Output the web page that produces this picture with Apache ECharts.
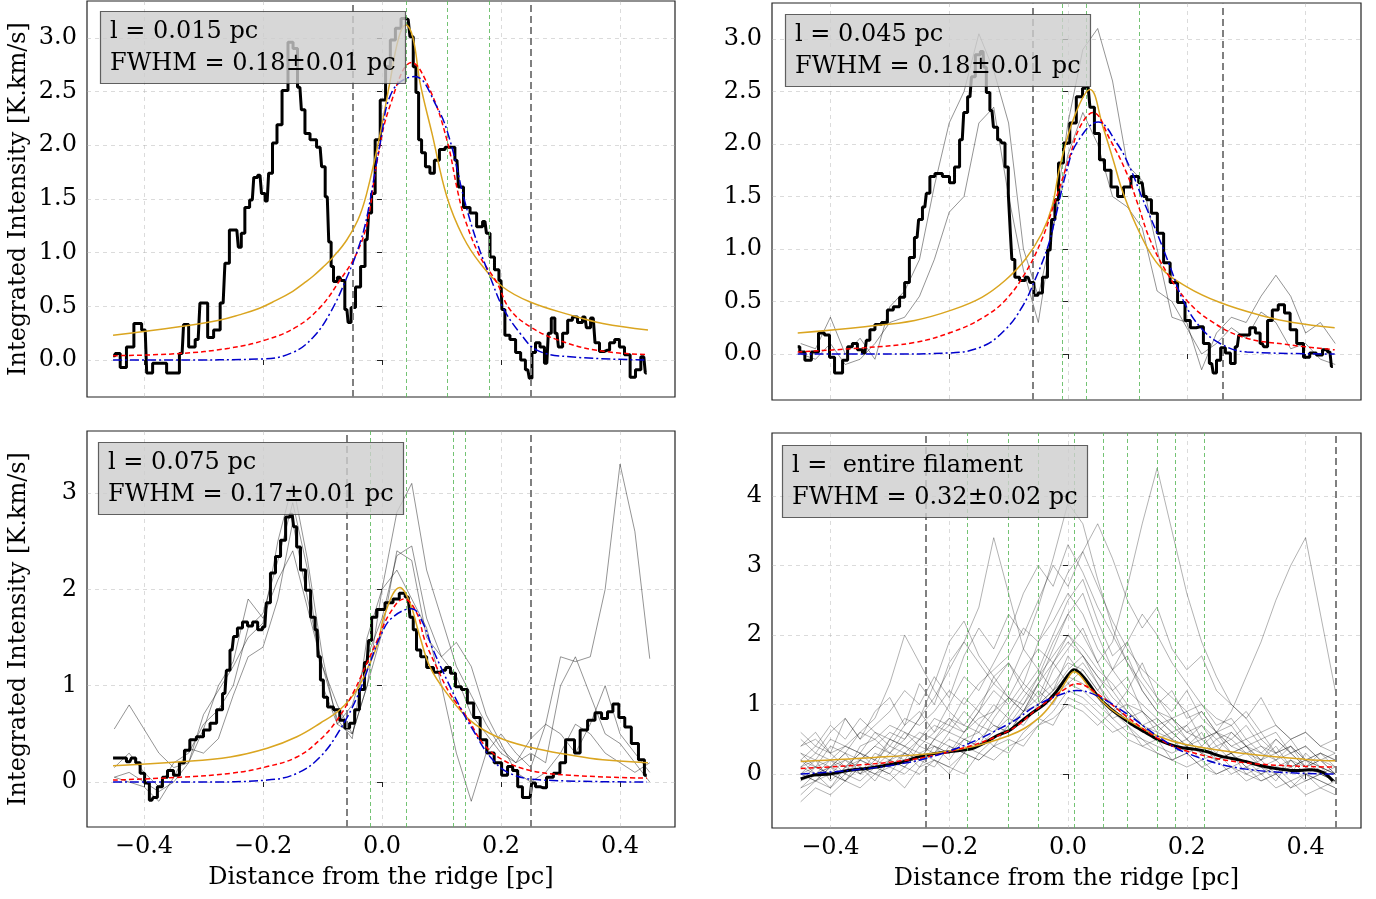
<!DOCTYPE html>
<html><head><meta charset="utf-8">
<script src="https://cdn.jsdelivr.net/npm/echarts@6/dist/echarts.min.js"></script>
<style>html,body{margin:0;padding:0;background:#fff}#c{width:1376px;height:899px}</style>
</head><body><div id="c"></div>
<script>
// ---------------- DATA ----------------
const xTicks = [-0.4, -0.2, 0, 0.2, 0.4];
const yTicksTop = [0, 0.5, 1, 1.5, 2, 2.5, 3];
const yTicks3 = [0, 1, 2, 3];
const yTicks4 = [0, 1, 2, 3, 4];

const labels = [
  'l = 0.015 pc\nFWHM = 0.18\u00b10.01 pc',
  'l = 0.045 pc\nFWHM = 0.18\u00b10.01 pc',
  'l = 0.075 pc\nFWHM = 0.17\u00b10.01 pc',
  'l =  entire filament\nFWHM = 0.32\u00b10.02 pc'
];

// vertical markers
const p1Ridge = [-0.054, 0.252], p1Green = [0.037, 0.113, 0.180];
const p2Ridge = [-0.057, 0.259], p2Green = [-0.012, 0.034, 0.116];
const p3Ridge = [-0.0605, 0.254], p3Green = [-0.016, 0.037, 0.119, 0.143];
const p4Ridge = [-0.236, 0.446], p4Green = [-0.172, -0.099, -0.054, 0.007, 0.062, 0.104, 0.146, 0.184, 0.229];

// panel 1 profile
const p1Black = [[-0.452,0.04],[-0.445,0.06],[-0.435,-0.07],[-0.424,0.12],[-0.410,0.34],[-0.398,0.28],[-0.393,-0.12],[-0.378,-0.03],[-0.368,-0.03],[-0.356,-0.12],[-0.345,-0.12],[-0.336,0.06],[-0.331,0.33],[-0.319,0.12],[-0.309,0.19],[-0.303,0.53],[-0.297,0.53],[-0.289,0.21],[-0.277,0.28],[-0.267,0.53],[-0.261,0.90],[-0.252,1.21],[-0.244,1.21],[-0.239,1.05],[-0.234,1.18],[-0.227,1.42],[-0.218,1.49],[-0.213,1.70],[-0.205,1.72],[-0.200,1.55],[-0.193,1.48],[-0.188,1.74],[-0.180,2.02],[-0.173,2.19],[-0.163,2.51],[-0.153,2.96],[-0.146,2.90],[-0.138,2.54],[-0.133,2.33],[-0.126,2.11],[-0.116,2.05],[-0.104,1.98],[-0.099,1.80],[-0.092,1.52],[-0.087,1.10],[-0.084,0.87],[-0.079,0.73],[-0.071,0.77],[-0.066,0.74],[-0.059,0.47],[-0.055,0.35],[-0.049,0.49],[-0.040,0.68],[-0.032,0.87],[-0.025,1.12],[-0.020,1.37],[-0.015,1.55],[-0.008,2.05],[0.002,2.42],[0.010,2.73],[0.018,2.98],[0.027,3.09],[0.037,3.18],[0.044,3.17],[0.050,3.01],[0.055,2.73],[0.059,2.49],[0.064,2.05],[0.069,1.93],[0.077,1.80],[0.084,1.74],[0.092,1.86],[0.101,1.96],[0.111,1.98],[0.119,1.98],[0.126,1.86],[0.131,1.61],[0.143,1.42],[0.153,1.37],[0.165,1.24],[0.173,1.29],[0.178,1.18],[0.185,0.96],[0.193,0.84],[0.200,0.74],[0.203,0.47],[0.210,0.23],[0.220,0.19],[0.229,0.07],[0.237,0.00],[0.245,-0.09],[0.250,-0.17],[0.254,0.07],[0.262,0.16],[0.269,0.12],[0.277,-0.03],[0.282,0.25],[0.287,0.39],[0.294,0.25],[0.299,0.12],[0.308,0.25],[0.316,0.37],[0.324,0.40],[0.333,0.35],[0.341,0.40],[0.346,0.30],[0.355,0.39],[0.361,0.16],[0.370,0.08],[0.378,0.09],[0.387,0.16],[0.395,0.19],[0.403,0.12],[0.412,0.05],[0.422,-0.16],[0.430,-0.09],[0.440,0.03],[0.445,-0.12]];
const p1Plummer = [[-0.452,0.23],[-0.341,0.31],[-0.274,0.37],[-0.240,0.42],[-0.207,0.48],[-0.180,0.55],[-0.150,0.64],[-0.130,0.72],[-0.116,0.78],[-0.100,0.86],[-0.082,0.96],[-0.059,1.12],[-0.037,1.35],[-0.020,1.68],[-0.003,2.11],[0.013,2.58],[0.028,3.00],[0.040,3.12],[0.052,3.00],[0.064,2.58],[0.084,2.11],[0.109,1.52],[0.136,1.15],[0.165,0.90],[0.203,0.68],[0.249,0.54],[0.316,0.42],[0.371,0.34],[0.447,0.28]];
const p1Gauss = [[-0.452,0.04],[-0.341,0.06],[-0.257,0.11],[-0.194,0.19],[-0.143,0.31],[-0.104,0.49],[-0.071,0.74],[-0.042,1.00],[-0.024,1.30],[-0.008,1.86],[0.013,2.36],[0.050,2.77],[0.081,2.51],[0.109,2.05],[0.128,1.55],[0.140,1.30],[0.165,0.96],[0.193,0.72],[0.215,0.47],[0.249,0.31],[0.294,0.19],[0.361,0.09],[0.445,0.05]];
const p1Gauss2 = [[-0.452,0.0],[-0.35,0.0],[-0.2,0.01],[-0.150,0.07],[-0.116,0.21],[-0.087,0.44],[-0.059,0.77],[-0.037,1.09],[-0.024,1.37],[-0.003,2.02],[0.018,2.51],[0.055,2.64],[0.092,2.36],[0.114,2.05],[0.138,1.50],[0.160,1.09],[0.182,0.77],[0.203,0.49],[0.232,0.25],[0.261,0.09],[0.316,0.03],[0.445,0.0]];

// panel 2 profiles
const p2Black = [[-0.455,0.07],[-0.448,0.02],[-0.438,-0.06],[-0.426,0.02],[-0.414,0.20],[-0.406,0.18],[-0.397,-0.03],[-0.389,-0.18],[-0.384,-0.18],[-0.375,-0.06],[-0.367,0.07],[-0.359,0.10],[-0.350,0.04],[-0.342,0.01],[-0.337,0.13],[-0.330,0.23],[-0.320,0.28],[-0.308,0.30],[-0.300,0.42],[-0.288,0.45],[-0.279,0.54],[-0.271,0.68],[-0.263,0.92],[-0.254,1.11],[-0.249,1.28],[-0.241,1.40],[-0.236,1.53],[-0.229,1.69],[-0.219,1.72],[-0.204,1.69],[-0.195,1.63],[-0.187,1.78],[-0.178,2.04],[-0.173,2.30],[-0.165,2.45],[-0.160,2.64],[-0.152,2.85],[-0.143,2.88],[-0.140,2.73],[-0.135,2.49],[-0.128,2.32],[-0.123,2.16],[-0.114,2.04],[-0.109,2.01],[-0.103,1.78],[-0.098,1.53],[-0.096,1.15],[-0.093,0.90],[-0.086,0.73],[-0.077,0.70],[-0.067,0.73],[-0.061,0.68],[-0.054,0.56],[-0.047,0.58],[-0.039,0.73],[-0.030,0.99],[-0.025,1.28],[-0.019,1.47],[-0.013,1.82],[-0.002,2.01],[0.008,2.20],[0.020,2.45],[0.029,2.53],[0.034,2.54],[0.040,2.35],[0.049,2.10],[0.057,1.85],[0.066,1.75],[0.079,1.59],[0.088,1.50],[0.099,1.59],[0.113,1.69],[0.125,1.63],[0.130,1.50],[0.135,1.47],[0.146,1.34],[0.155,1.15],[0.167,0.87],[0.177,0.68],[0.192,0.49],[0.202,0.32],[0.210,0.25],[0.222,0.26],[0.234,0.10],[0.242,-0.09],[0.247,-0.18],[0.253,-0.06],[0.261,0.06],[0.269,0.01],[0.278,-0.09],[0.285,0.07],[0.290,0.18],[0.301,0.18],[0.311,0.25],[0.320,0.20],[0.327,0.10],[0.332,0.07],[0.340,0.32],[0.348,0.42],[0.360,0.47],[0.369,0.39],[0.379,0.23],[0.391,0.10],[0.402,-0.03],[0.412,0.01],[0.424,-0.01],[0.433,0.04],[0.441,0.02],[0.446,-0.12]];
const p2Plummer = [[-0.455,0.20],[-0.342,0.26],[-0.258,0.32],[-0.195,0.42],[-0.145,0.54],[-0.106,0.70],[-0.072,0.90],[-0.044,1.15],[-0.027,1.40],[-0.013,1.80],[0.012,2.28],[0.037,2.52],[0.059,2.16],[0.076,1.85],[0.093,1.53],[0.121,1.15],[0.155,0.83],[0.200,0.64],[0.256,0.49],[0.323,0.37],[0.379,0.30],[0.449,0.25]];
const p2Gauss = [[-0.455,0.02],[-0.342,0.06],[-0.258,0.11],[-0.195,0.21],[-0.145,0.34],[-0.106,0.51],[-0.072,0.77],[-0.044,1.09],[-0.025,1.40],[0.003,1.88],[0.020,2.16],[0.042,2.30],[0.071,2.04],[0.099,1.72],[0.118,1.42],[0.138,1.09],[0.167,0.77],[0.200,0.51],[0.239,0.32],[0.295,0.16],[0.369,0.09],[0.449,0.04]];
const p2Gauss2 = [[-0.455,0.0],[-0.3,0.0],[-0.2,0.01],[-0.145,0.07],[-0.106,0.23],[-0.077,0.45],[-0.056,0.70],[-0.034,1.02],[-0.022,1.28],[-0.002,1.75],[0.015,2.01],[0.051,2.21],[0.082,2.01],[0.104,1.78],[0.124,1.50],[0.150,1.15],[0.172,0.83],[0.194,0.51],[0.222,0.26],[0.256,0.10],[0.301,0.02],[0.449,0.0]];

// common sampling positions of the thin individual profiles
const gx = [-0.45,-0.425,-0.4,-0.375,-0.35,-0.325,-0.3,-0.275,-0.25,-0.225,-0.2,-0.175,-0.15,-0.125,-0.1,-0.075,-0.05,-0.025,0,0.025,0.05,0.075,0.1,0.125,0.15,0.175,0.2,0.225,0.25,0.275,0.3,0.325,0.35,0.375,0.4,0.425,0.45];
const p2GrayA = [0.1,0.05,0.35,0.0,0.15,-0.05,0.45,0.6,0.9,1.6,2.2,2.5,3.05,2.7,2.2,1.0,0.55,1.2,2.2,2.9,3.1,2.6,1.8,1.65,1.0,0.35,0.3,-0.15,0.2,0.35,0.3,0.55,0.75,0.55,0.2,0.3,0.1];
const p2GrayB = [0.0,-0.05,0.1,-0.1,-0.05,0.1,0.3,0.35,0.55,0.9,1.35,1.5,2.2,2.35,1.5,0.8,0.3,1.2,1.9,2.3,2.0,1.5,1.4,1.2,0.6,0.5,0.25,0.0,0.1,0.25,0.15,0.4,0.3,0.05,0.1,-0.05,-0.1];

// panel 3 profiles
const p3Black = [[-0.452,0.25],[-0.435,0.25],[-0.424,0.21],[-0.418,0.25],[-0.410,0.20],[-0.403,0.09],[-0.395,-0.01],[-0.387,-0.19],[-0.382,-0.16],[-0.373,-0.05],[-0.365,0.05],[-0.356,0.12],[-0.345,0.07],[-0.336,0.20],[-0.328,0.33],[-0.318,0.44],[-0.306,0.47],[-0.294,0.54],[-0.284,0.61],[-0.272,0.75],[-0.264,0.92],[-0.259,1.16],[-0.252,1.37],[-0.247,1.51],[-0.239,1.60],[-0.230,1.66],[-0.222,1.62],[-0.213,1.66],[-0.205,1.58],[-0.197,1.61],[-0.192,1.86],[-0.183,2.17],[-0.175,2.34],[-0.166,2.51],[-0.158,2.75],[-0.151,2.78],[-0.146,2.65],[-0.141,2.44],[-0.133,2.20],[-0.124,1.99],[-0.116,1.71],[-0.109,1.58],[-0.106,1.30],[-0.101,1.06],[-0.096,0.88],[-0.087,0.78],[-0.076,0.75],[-0.066,0.64],[-0.059,0.56],[-0.050,0.61],[-0.042,0.75],[-0.034,0.96],[-0.025,1.24],[-0.020,1.47],[-0.015,1.71],[-0.003,1.79],[0.013,1.86],[0.024,1.90],[0.034,1.96],[0.044,1.92],[0.050,1.71],[0.055,1.58],[0.061,1.37],[0.069,1.30],[0.081,1.19],[0.092,1.14],[0.103,1.16],[0.111,1.19],[0.119,1.13],[0.128,0.99],[0.139,0.96],[0.148,0.82],[0.160,0.67],[0.170,0.44],[0.182,0.30],[0.195,0.20],[0.207,0.07],[0.215,0.16],[0.224,0.12],[0.232,-0.05],[0.240,-0.16],[0.249,-0.16],[0.254,-0.01],[0.262,-0.05],[0.271,-0.06],[0.282,0.05],[0.294,0.09],[0.304,0.20],[0.313,0.44],[0.319,0.44],[0.328,0.30],[0.338,0.54],[0.353,0.64],[0.363,0.72],[0.375,0.66],[0.383,0.73],[0.393,0.81],[0.403,0.67],[0.413,0.57],[0.425,0.40],[0.437,0.23],[0.445,0.07]];
const p3Plummer = [[-0.452,0.17],[-0.339,0.21],[-0.255,0.26],[-0.193,0.35],[-0.143,0.47],[-0.104,0.61],[-0.071,0.75],[-0.042,0.96],[-0.020,1.24],[-0.007,1.44],[0.005,1.75],[0.030,2.02],[0.047,1.86],[0.059,1.61],[0.064,1.50],[0.081,1.19],[0.109,0.92],[0.148,0.64],[0.193,0.47],[0.249,0.36],[0.316,0.28],[0.371,0.23],[0.447,0.20]];
const p3Gauss = [[-0.452,0.02],[-0.339,0.05],[-0.255,0.09],[-0.193,0.16],[-0.143,0.26],[-0.104,0.44],[-0.076,0.64],[-0.049,0.92],[-0.025,1.24],[-0.008,1.47],[0.013,1.75],[0.037,1.90],[0.058,1.76],[0.072,1.47],[0.092,1.19],[0.114,0.92],[0.143,0.67],[0.170,0.40],[0.203,0.23],[0.249,0.12],[0.316,0.07],[0.445,0.04]];
const p3Gauss2 = [[-0.452,0.0],[-0.3,0.0],[-0.193,0.02],[-0.143,0.09],[-0.104,0.26],[-0.071,0.54],[-0.042,0.88],[-0.020,1.24],[-0.003,1.51],[0.016,1.70],[0.050,1.80],[0.068,1.66],[0.084,1.40],[0.109,1.06],[0.131,0.78],[0.153,0.54],[0.182,0.26],[0.215,0.09],[0.271,0.02],[0.445,0.0]];
const p3GrayA = [0.55,0.8,0.55,0.3,0.15,0.2,0.55,1.0,1.25,1.9,1.7,2.1,2.4,1.8,1.2,0.8,0.5,1.0,1.55,2.4,2.3,1.5,1.3,1.1,0.7,0.5,0.3,0.2,0.45,0.6,1.3,1.25,1.3,2.0,3.3,2.6,1.28];
const p3GrayB = [0.05,0.1,0.0,-0.1,0.0,0.2,0.7,0.95,1.2,1.5,1.65,2.5,3.1,2.3,1.3,0.6,0.5,1.0,2.0,2.8,3.1,2.2,1.7,1.2,0.9,0.6,0.35,0.2,0.3,0.2,1.0,1.3,0.9,0.5,0.4,0.2,0.0];
const p3GrayC = [0.05,0.0,-0.05,-0.2,0.05,0.35,0.3,0.45,0.9,1.3,1.4,1.9,2.7,1.9,1.2,0.65,0.45,1.5,2.0,2.2,1.9,1.6,1.0,0.3,-0.2,0.3,0.5,0.3,0.15,0.6,0.5,0.3,0.6,1.0,0.5,0.3,0.1];
const p3GrayD = [0.15,0.3,0.1,-0.05,0.2,0.3,0.6,0.75,1.0,1.6,1.75,2.3,2.9,2.2,1.0,0.6,0.8,1.3,1.7,2.35,2.45,1.7,1.3,1.45,1.2,0.7,0.4,0.1,0.0,0.1,0.3,0.6,0.5,0.3,0.2,0.1,0.2];

// panel 4 (entire filament)
const p4Black = [[-0.45,-0.07],[-0.43,-0.02],[-0.40,0.0],[-0.37,0.05],[-0.34,0.08],[-0.31,0.12],[-0.28,0.17],[-0.25,0.25],[-0.22,0.30],[-0.20,0.32],[-0.18,0.34],[-0.16,0.37],[-0.14,0.45],[-0.12,0.55],[-0.10,0.62],[-0.08,0.75],[-0.06,0.88],[-0.04,1.00],[-0.02,1.18],[0.0,1.42],[0.01,1.50],[0.02,1.45],[0.035,1.30],[0.05,1.12],[0.07,0.95],[0.09,0.82],[0.11,0.70],[0.13,0.60],[0.15,0.50],[0.17,0.43],[0.19,0.38],[0.21,0.36],[0.23,0.33],[0.26,0.25],[0.29,0.20],[0.32,0.13],[0.35,0.08],[0.38,0.05],[0.41,0.06],[0.43,0.02],[0.446,-0.10]];
const p4Plummer = [[-0.45,0.18],[-0.3,0.25],[-0.2,0.33],[-0.1,0.55],[-0.05,0.80],[-0.02,1.10],[0.0,1.38],[0.01,1.47],[0.02,1.42],[0.04,1.20],[0.07,0.95],[0.1,0.78],[0.15,0.55],[0.2,0.42],[0.3,0.29],[0.4,0.21],[0.45,0.19]];
const p4Gauss = [[-0.45,0.08],[-0.3,0.17],[-0.2,0.32],[-0.1,0.62],[-0.05,0.95],[0.0,1.25],[0.015,1.30],[0.05,1.15],[0.1,0.82],[0.15,0.52],[0.2,0.33],[0.3,0.16],[0.45,0.10]];
const p4Gauss2 = [[-0.45,0.0],[-0.3,0.12],[-0.2,0.33],[-0.1,0.72],[-0.05,1.00],[0.0,1.18],[0.015,1.20],[0.05,1.12],[0.1,0.86],[0.15,0.55],[0.2,0.30],[0.3,0.07],[0.45,0.0]];
const p4Gray = [
  [0.1,0.3,0.2,0.0,0.4,0.5,0.3,0.6,0.5,0.8,0.7,1.1,0.9,1.4,1.6,1.3,1.9,2.2,2.6,2.3,1.8,1.5,1.2,1.6,1.1,0.8,0.9,0.5,0.6,0.3,0.4,0.1,0.2,0.0,0.3,0.1,0.0],
  [-0.2,0.0,0.1,-0.1,0.2,0.1,0.0,0.3,0.2,0.5,0.4,0.3,0.7,0.6,0.9,1.2,1.0,1.5,1.8,2.1,1.6,1.2,1.4,0.9,0.7,0.5,0.4,0.6,0.2,0.3,0.0,0.1,-0.1,0.2,0.0,-0.2,-0.1],
  [0.4,0.6,0.3,0.8,0.5,0.9,1.1,0.7,1.3,1.0,1.6,1.9,2.4,3.4,2.6,1.8,1.5,2.0,2.5,2.8,2.2,1.7,1.9,1.4,1.1,0.9,1.2,0.8,0.6,0.7,0.4,0.5,0.3,0.4,0.2,0.3,0.1],
  [0.0,-0.1,0.1,0.2,0.0,0.3,0.2,0.1,0.4,0.3,0.6,0.5,0.4,0.8,1.1,0.9,1.3,1.8,2.3,2.0,1.6,1.9,2.7,3.6,4.4,3.5,2.6,1.9,1.4,1.0,0.8,0.5,0.6,0.3,0.4,0.2,0.1],
  [0.2,0.1,0.4,0.3,0.6,0.8,1.3,2.0,1.6,1.2,0.9,0.7,1.0,1.3,1.1,1.5,1.8,1.6,2.0,1.7,1.4,1.1,0.9,0.7,0.6,0.8,0.5,0.3,0.4,0.2,0.3,0.1,0.0,0.2,0.1,0.0,-0.1],
  [-0.1,0.1,0.0,0.2,0.1,-0.1,0.2,0.3,0.1,0.4,0.2,0.5,0.6,0.4,0.7,0.9,1.2,1.0,1.4,1.6,1.3,1.0,0.8,0.9,0.6,0.5,0.7,0.4,0.6,0.9,1.4,1.9,2.5,3.0,3.4,2.3,1.2],
  [0.3,0.2,0.5,0.4,0.3,0.6,0.4,0.7,0.9,0.6,1.0,1.4,1.2,1.6,2.0,2.6,3.0,2.7,3.3,2.9,2.4,2.0,1.6,1.3,1.0,1.2,0.8,0.9,0.6,0.5,0.7,0.4,0.3,0.5,0.2,0.3,0.2],
  [-0.3,-0.1,-0.2,0.0,-0.1,0.1,0.0,-0.2,0.1,0.2,0.0,0.3,0.2,0.4,0.3,0.6,0.8,0.7,1.1,1.0,0.8,0.6,0.7,0.4,0.5,0.2,0.3,0.1,0.2,0.0,0.1,-0.1,0.0,-0.2,0.0,-0.1,-0.2],
  [0.5,0.3,0.6,0.8,0.5,0.7,0.9,1.2,1.0,1.4,1.1,1.7,2.1,1.8,2.3,2.0,2.5,3.0,2.7,3.2,3.6,3.1,2.5,2.1,2.4,1.8,1.5,1.7,1.2,1.0,0.8,1.1,0.7,0.5,0.6,0.4,0.3],
  [0.1,0.0,0.2,0.1,0.3,0.2,0.4,0.3,0.5,0.7,0.6,0.9,0.7,1.0,0.8,1.1,1.4,1.9,2.3,2.6,2.0,1.5,1.7,1.2,0.9,0.7,0.5,0.7,0.4,0.5,0.3,0.2,0.4,0.1,0.2,0.0,0.1],
  [0.0,0.2,-0.1,0.1,0.3,0.1,0.5,0.4,0.2,0.5,0.8,0.6,0.9,1.2,1.0,1.3,1.1,1.6,1.3,1.5,1.2,1.5,1.9,2.3,2.0,1.6,1.3,1.0,0.7,0.8,0.5,0.6,0.3,0.4,0.1,0.2,0.0],
  [0.2,0.4,0.3,0.1,0.2,0.4,0.6,0.5,0.8,1.1,1.5,1.9,1.6,1.3,1.6,1.2,1.5,1.2,1.7,1.4,1.1,0.9,1.0,0.7,0.8,0.6,0.4,0.5,0.3,0.6,0.4,0.2,0.5,0.3,0.1,0.3,0.2],
  [-0.4,-0.2,-0.3,-0.1,-0.2,0.0,-0.1,0.1,0.0,0.2,0.1,0.0,0.3,0.2,0.4,0.5,0.7,0.9,1.2,1.1,0.9,0.7,0.5,0.4,0.3,0.2,0.1,0.2,0.0,0.1,-0.1,0.0,-0.2,-0.1,-0.3,-0.2,-0.3],
  [0.3,0.1,0.2,0.4,0.3,0.2,0.5,0.4,0.6,0.5,0.7,0.6,0.8,0.9,1.1,1.0,1.4,1.7,2.0,1.8,1.5,1.3,1.0,0.9,0.7,0.8,0.6,0.5,0.6,0.4,0.3,0.4,0.2,0.3,0.1,0.2,0.0],
  [-0.1,0.0,-0.2,0.1,0.0,0.2,0.1,0.3,0.2,0.1,0.4,0.3,0.5,0.7,0.6,0.9,1.1,1.3,1.6,1.5,1.2,1.0,0.8,0.6,0.7,0.5,0.3,0.4,0.2,0.3,0.1,0.0,0.1,-0.1,0.0,-0.1,-0.2],
  [0.6,0.4,0.7,0.5,0.8,0.6,0.5,0.8,0.7,0.9,1.2,1.0,1.3,1.5,1.7,2.1,1.9,2.4,2.9,3.2,2.7,2.2,1.8,1.5,1.3,1.1,0.9,1.0,0.8,0.7,0.9,0.6,0.7,0.5,0.6,0.4,0.5],
  [0.0,0.1,0.0,-0.1,0.1,0.0,0.2,0.1,0.3,0.4,0.3,0.5,0.4,0.6,0.8,0.7,1.0,1.2,1.5,1.7,1.4,1.2,0.9,0.7,0.5,0.4,0.5,0.3,0.2,0.3,0.1,0.2,0.0,0.1,-0.1,0.0,-0.1],
  [0.2,0.0,0.1,0.3,0.2,0.4,0.3,0.2,0.5,0.4,0.3,0.6,0.9,0.7,0.6,0.9,1.3,1.1,1.3,1.2,1.0,0.8,0.9,0.7,0.5,0.6,0.4,0.3,0.5,0.3,0.4,0.2,0.3,0.1,0.2,0.1,0.0],
  [-0.2,-0.1,0.0,-0.1,0.1,0.0,0.1,0.0,0.2,0.3,0.5,0.4,0.3,0.5,0.7,1.0,1.3,1.6,1.9,1.7,1.3,0.9,0.7,0.5,0.3,0.2,0.3,0.1,0.0,0.1,0.0,-0.1,0.0,-0.2,-0.1,0.0,-0.1],
  [0.4,0.5,0.3,0.4,0.6,0.5,0.7,0.6,0.4,0.6,0.8,0.7,0.6,0.9,1.3,1.8,2.4,3.1,3.9,3.6,2.8,2.1,1.6,1.2,0.9,0.8,0.6,0.7,0.5,0.6,0.4,0.3,0.5,0.3,0.4,0.2,0.3],
  [0.1,0.2,0.1,0.3,0.0,0.1,0.2,0.4,0.3,0.2,0.1,0.3,0.2,0.4,0.5,0.4,0.7,0.8,1.0,0.9,0.7,0.9,1.2,1.0,0.8,0.6,0.7,0.9,0.6,0.4,0.5,0.3,0.2,0.4,0.2,0.1,0.0],
  [0.0,-0.1,0.1,0.0,0.2,0.1,0.3,0.5,0.8,1.3,1.9,2.2,1.7,1.4,1.1,0.9,1.0,1.2,1.4,1.3,1.1,0.8,0.6,0.5,0.4,0.3,0.4,0.2,0.3,0.1,0.2,0.0,0.1,0.2,0.0,0.1,-0.1]
];

// ---------------- CHART ----------------
const FONT = 'DejaVu Serif';
const FS = 24;
const panels = [
  {left:87, top:1, width:588, height:396, xr:[-0.4958,0.4924], yr:[-0.3445,3.343], yt:yTicksTop, dec:1, xl:false, yn:true, box:[100,11]},
  {left:772, top:3, width:589, height:397, xr:[-0.4983,0.4933], yr:[-0.438,3.343], yt:yTicksTop, dec:1, xl:false, yn:false, box:[785,14]},
  {left:87, top:431, width:588, height:396, xr:[-0.4958,0.4924], yr:[-0.467,3.644], yt:yTicks3, dec:0, xl:true, yn:true, box:[98,442]},
  {left:772, top:433, width:589, height:395, xr:[-0.4983,0.4933], yr:[-0.777,4.906], yt:yTicks4, dec:0, xl:true, yn:false, box:[782,445]}
];
const fmtX = v => (v < -1e-9 ? '\u2212' : '') + Math.abs(v).toFixed(1);
const gridLine = {show:true, lineStyle:{color:'rgba(176,176,176,0.45)', type:[4,4], width:1}};

const grids = [], xAxes = [], yAxes = [], titles = [], series = [];
panels.forEach((p, i) => {
  grids.push({left:p.left, top:p.top, width:p.width, height:p.height, show:true, borderColor:'#222', borderWidth:1.2, backgroundColor:'transparent', containLabel:false});
  xAxes.push({type:'value', gridIndex:i, min:p.xr[0], max:p.xr[1],
    axisLine:{show:false}, splitLine:gridLine,
    axisTick:{show:true, customValues:xTicks, length:5, inside:false, lineStyle:{color:'#222', width:1}},
    axisLabel:{show:p.xl, customValues:xTicks, formatter:fmtX, fontFamily:FONT, fontSize:FS, color:'#000', margin:8},
    name: p.xl ? 'Distance from the ridge [pc]' : '', nameLocation:'middle', nameGap:39,
    nameTextStyle:{fontFamily:FONT, fontSize:FS, color:'#000'}});
  yAxes.push({type:'value', gridIndex:i, min:p.yr[0], max:p.yr[1],
    axisLine:{show:false}, splitLine:gridLine,
    axisTick:{show:true, customValues:p.yt, length:5, inside:false, lineStyle:{color:'#222', width:1}},
    axisLabel:{customValues:p.yt, formatter:v => v.toFixed(p.dec), fontFamily:FONT, fontSize:FS, color:'#000', margin:10},
    name: p.yn ? 'Integrated Intensity [K.km/s]' : '', nameLocation:'middle', nameGap:56,
    nameTextStyle:{fontFamily:FONT, fontSize:FS, color:'#000'}});
  titles.push({text:labels[i], left:p.box[0], top:p.box[1], z:20,
    textStyle:{fontFamily:FONT, fontSize:FS, fontWeight:'normal', color:'#000', lineHeight:32},
    backgroundColor:'rgba(205,205,205,0.8)', borderColor:'rgba(60,60,60,0.8)', borderWidth:1.2, padding:[5,10,4,10]});
});

function step(i, data, color, width, z, extra) {
  return Object.assign({type:'line', xAxisIndex:i, yAxisIndex:i, data:data, step:'middle', symbol:'none', showSymbol:false,
    lineStyle:{color:color, width:width}, z:z, silent:true, animation:false}, extra || {});
}
function thin(i, ys, color) {
  return {type:'line', xAxisIndex:i, yAxisIndex:i, data:ys.map((y, k) => [gx[k], y]), symbol:'none', showSymbol:false,
    lineStyle:{color:color, width:1}, z:3, silent:true, animation:false};
}
function fit(i, data, color, type) {
  return {type:'line', xAxisIndex:i, yAxisIndex:i, data:data, smooth:0.4, symbol:'none', showSymbol:false,
    lineStyle:{color:color, width:1.5, type:type}, z:5, silent:true, animation:false};
}
function marks(ridge, green) {
  return {symbol:['none','none'], silent:true, animation:false, label:{show:false},
    data: ridge.map(v => ({xAxis:v, lineStyle:{color:'#808080', width:2, type:[7,4]}}))
      .concat(green.map(v => ({xAxis:v, lineStyle:{color:'#5cb85c', width:1, type:[4,3], opacity:0.85}})))};
}

// panel 1
series.push(step(0, p1Black, '#000', 3, 4, {markLine:marks(p1Ridge, p1Green)}));
series.push(fit(0, p1Plummer, '#DAA520', 'solid'), fit(0, p1Gauss, '#ff0000', [5,3]), fit(0, p1Gauss2, '#0000cc', [9,3,2,3]));
// panel 2
[p2GrayA, p2GrayB].forEach(g => series.push(thin(1, g, 'rgba(0,0,0,0.42)')));
series.push(step(1, p2Black, '#000', 3, 4, {markLine:marks(p2Ridge, p2Green)}));
series.push(fit(1, p2Plummer, '#DAA520', 'solid'), fit(1, p2Gauss, '#ff0000', [5,3]), fit(1, p2Gauss2, '#0000cc', [9,3,2,3]));
// panel 3
[p3GrayA, p3GrayB, p3GrayC, p3GrayD].forEach(g => series.push(thin(2, g, 'rgba(0,0,0,0.42)')));
series.push(step(2, p3Black, '#000', 3, 4, {markLine:marks(p3Ridge, p3Green)}));
series.push(fit(2, p3Plummer, '#DAA520', 'solid'), fit(2, p3Gauss, '#ff0000', [5,3]), fit(2, p3Gauss2, '#0000cc', [9,3,2,3]));
// panel 4
p4Gray.forEach(g => series.push(thin(3, g, 'rgba(0,0,0,0.3)')));
series.push(step(3, p4Black, '#000', 3, 4, {step:false, smooth:0.3, markLine:marks(p4Ridge, p4Green)}));
series.push(fit(3, p4Plummer, '#DAA520', 'solid'), fit(3, p4Gauss, '#ff0000', [5,3]), fit(3, p4Gauss2, '#0000cc', [9,3,2,3]));

const chart = echarts.init(document.getElementById('c'), null, {renderer:'canvas'});
chart.setOption({animation:false, backgroundColor:'#fff', grid:grids, xAxis:xAxes, yAxis:yAxes, title:titles, series:series});
</script></body></html>
